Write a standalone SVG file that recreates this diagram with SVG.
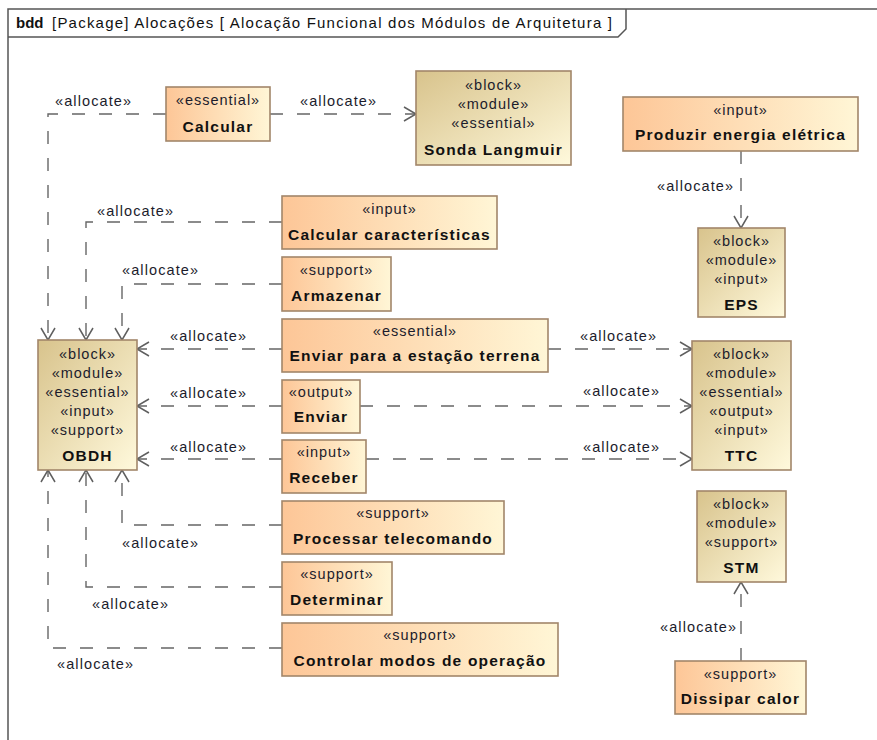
<svg xmlns="http://www.w3.org/2000/svg" width="877" height="740" viewBox="0 0 877 740">
  <defs>
    <linearGradient id="gAct" x1="0" y1="0" x2="1" y2="0">
      <stop offset="0" stop-color="#fdc697"/>
      <stop offset="1" stop-color="#fff6d6"/>
    </linearGradient>
    <linearGradient id="gBlk" x1="0" y1="0" x2="1" y2="1">
      <stop offset="0" stop-color="#d8c38c"/>
      <stop offset="1" stop-color="#fff9dc"/>
    </linearGradient>
    <marker id="arr" markerUnits="userSpaceOnUse" markerWidth="16" markerHeight="16" refX="13" refY="8" orient="auto" viewBox="0 0 16 16">
      <path d="M1,1 L13,8 L1,15" fill="none" stroke="#5f5f5f" stroke-width="1.5"/>
    </marker>
    <style>
      .st { font-family: "Liberation Sans", Arial, sans-serif; font-size: 14.5px; letter-spacing: 1px; fill: #1c1c2c; text-anchor: middle; }
      .nm { font-family: "Liberation Sans", Arial, sans-serif; font-size: 15.5px; font-weight: bold; letter-spacing: 1.2px; fill: #111; text-anchor: middle; }
      .al { font-family: "Liberation Sans", Arial, sans-serif; font-size: 14.5px; letter-spacing: 1.1px; fill: #1c1c2c; }
      .act { fill: url(#gAct); stroke: #a2866a; stroke-width: 1.6; }
      .blk { fill: url(#gBlk); stroke: #a2866a; stroke-width: 1.6; }
      .c { fill: none; stroke: #666; stroke-width: 1.4; stroke-dasharray: 13 14; }
      .ca { marker-end: url(#arr); }
      .frame { fill: none; stroke: #555; stroke-width: 1.5; }
      .hd { font-family: "Liberation Sans", Arial, sans-serif; font-size: 15px; fill: #111; }
    </style>
  </defs>

  <!-- diagram frame and header tab -->
  <g id="frame">
    <path class="frame" d="M8,740 V9 H877"/>
    <path class="frame" d="M626,9 V29 L618,37 H8"/>
    <text class="hd" x="16" y="28"><tspan font-weight="bold">bdd</tspan></text>
    <text class="hd" x="52" y="28" textLength="560" lengthAdjust="spacing">[Package] Alocações [ Alocação Funcional dos Módulos de Arquitetura ]</text>
  </g>

  <!-- allocate dependencies -->
  <g id="connectors">
    <path class="c ca" d="M270,114 H416"/>
    <path class="c ca" d="M166,114 H48 V340"/>
    <path class="c ca" d="M282,222 H86 V340"/>
    <path class="c ca" d="M282,284 H122 V340"/>
    <path class="c ca" d="M282,349 H137"/>
    <path class="c ca" d="M548,349 H692"/>
    <path class="c ca" d="M282,406 H137"/>
    <path class="c ca" d="M360,406 H692"/>
    <path class="c ca" d="M282,459 H137"/>
    <path class="c ca" d="M366,459 H692"/>
    <path class="c ca" d="M282,525 H122 V470"/>
    <path class="c ca" d="M282,587 H86 V470"/>
    <path class="c ca" d="M282,648 H48 V470"/>
    <path class="c ca" d="M741,151 V228"/>
    <path class="c ca" d="M741,661 V582"/>

    <text class="al" x="55" y="106">«allocate»</text>
    <text class="al" x="300" y="106">«allocate»</text>
    <text class="al" x="97" y="216">«allocate»</text>
    <text class="al" x="122" y="275">«allocate»</text>
    <text class="al" x="170" y="341">«allocate»</text>
    <text class="al" x="580" y="341">«allocate»</text>
    <text class="al" x="170" y="398">«allocate»</text>
    <text class="al" x="583" y="396">«allocate»</text>
    <text class="al" x="170" y="452">«allocate»</text>
    <text class="al" x="583" y="452">«allocate»</text>
    <text class="al" x="122" y="548">«allocate»</text>
    <text class="al" x="92" y="609">«allocate»</text>
    <text class="al" x="57" y="669">«allocate»</text>
    <text class="al" x="657" y="191">«allocate»</text>
    <text class="al" x="660" y="632">«allocate»</text>
  </g>

  <g id="calcular">
    <rect class="act" x="166" y="87" width="104" height="54"/>
    <text class="st" x="218" y="105">«essential»</text>
    <text class="nm" x="218" y="132">Calcular</text>
  </g>

  <g id="sonda-langmuir">
    <rect class="blk" x="416" y="71" width="155" height="94"/>
    <text class="st" x="493.5" y="90">«block»</text>
    <text class="st" x="493.5" y="109">«module»</text>
    <text class="st" x="493.5" y="128">«essential»</text>
    <text class="nm" x="493.5" y="155">Sonda Langmuir</text>
  </g>

  <g id="produzir-energia">
    <rect class="act" x="623" y="97" width="235" height="54"/>
    <text class="st" x="740.5" y="115">«input»</text>
    <text class="nm" x="740.5" y="140">Produzir energia elétrica</text>
  </g>

  <g id="eps">
    <rect class="blk" x="698" y="228" width="87" height="89"/>
    <text class="st" x="741.5" y="246">«block»</text>
    <text class="st" x="741.5" y="265">«module»</text>
    <text class="st" x="741.5" y="284">«input»</text>
    <text class="nm" x="741.5" y="310">EPS</text>
  </g>

  <g id="calcular-caracteristicas">
    <rect class="act" x="282" y="196" width="215" height="53"/>
    <text class="st" x="389.5" y="214">«input»</text>
    <text class="nm" x="389.5" y="240">Calcular características</text>
  </g>

  <g id="armazenar">
    <rect class="act" x="282" y="257" width="109" height="54"/>
    <text class="st" x="336.5" y="275">«support»</text>
    <text class="nm" x="336.5" y="301">Armazenar</text>
  </g>

  <g id="enviar-estacao">
    <rect class="act" x="282" y="319" width="266" height="53"/>
    <text class="st" x="415" y="336">«essential»</text>
    <text class="nm" x="415" y="361">Enviar para a estação terrena</text>
  </g>

  <g id="obdh">
    <rect class="blk" x="38" y="340" width="99" height="130"/>
    <text class="st" x="87.5" y="359">«block»</text>
    <text class="st" x="87.5" y="378">«module»</text>
    <text class="st" x="87.5" y="397">«essential»</text>
    <text class="st" x="87.5" y="416">«input»</text>
    <text class="st" x="87.5" y="435">«support»</text>
    <text class="nm" x="87.5" y="461">OBDH</text>
  </g>

  <g id="enviar">
    <rect class="act" x="282" y="380" width="78" height="53"/>
    <text class="st" x="321" y="397">«output»</text>
    <text class="nm" x="321" y="422">Enviar</text>
  </g>

  <g id="receber">
    <rect class="act" x="282" y="440" width="84" height="53"/>
    <text class="st" x="324" y="457">«input»</text>
    <text class="nm" x="324" y="483">Receber</text>
  </g>

  <g id="ttc">
    <rect class="blk" x="692" y="341" width="99" height="129"/>
    <text class="st" x="741.5" y="359">«block»</text>
    <text class="st" x="741.5" y="378">«module»</text>
    <text class="st" x="741.5" y="397">«essential»</text>
    <text class="st" x="741.5" y="416">«output»</text>
    <text class="st" x="741.5" y="435">«input»</text>
    <text class="nm" x="741.5" y="461">TTC</text>
  </g>

  <g id="processar-telecomando">
    <rect class="act" x="282" y="501" width="222" height="53"/>
    <text class="st" x="393" y="518">«support»</text>
    <text class="nm" x="393" y="544">Processar telecomando</text>
  </g>

  <g id="determinar">
    <rect class="act" x="282" y="562" width="110" height="53"/>
    <text class="st" x="337" y="579">«support»</text>
    <text class="nm" x="337" y="605">Determinar</text>
  </g>

  <g id="controlar-modos">
    <rect class="act" x="282" y="623" width="276" height="53"/>
    <text class="st" x="420" y="640">«support»</text>
    <text class="nm" x="420" y="666">Controlar modos de operação</text>
  </g>

  <g id="stm">
    <rect class="blk" x="697" y="491" width="89" height="91"/>
    <text class="st" x="741.5" y="509">«block»</text>
    <text class="st" x="741.5" y="528">«module»</text>
    <text class="st" x="741.5" y="547">«support»</text>
    <text class="nm" x="741.5" y="573">STM</text>
  </g>

  <g id="dissipar-calor">
    <rect class="act" x="675" y="661" width="131" height="53"/>
    <text class="st" x="740.5" y="679">«support»</text>
    <text class="nm" x="740.5" y="704">Dissipar calor</text>
  </g>
</svg>
